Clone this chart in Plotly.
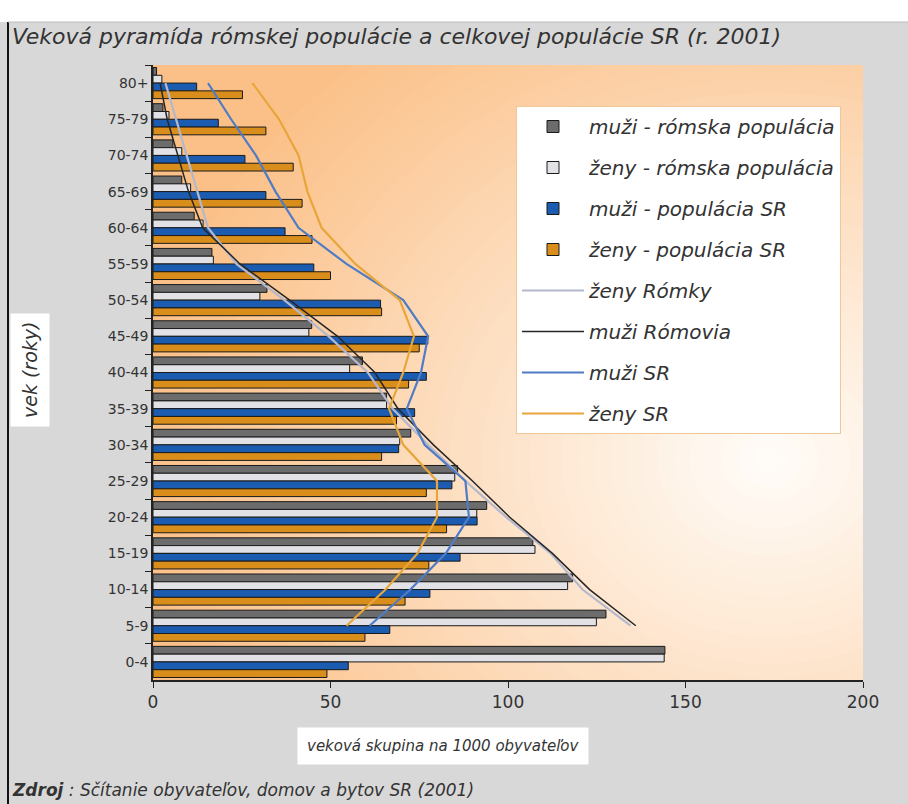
import plotly.graph_objects as go

# ---------------- data ----------------
age_groups = ["0-4", "5-9", "10-14", "15-19", "20-24", "25-29", "30-34", "35-39",
              "40-44", "45-49", "50-54", "55-59", "60-64", "65-69", "70-74", "75-79", "80+"]

muzi_romska = [144.2, 127.6, 118.2, 107.0, 94.0, 85.8, 72.6, 65.8, 59.0, 44.7,
               32.1, 16.6, 11.6, 8.1, 5.6, 2.8, 1.0]
zeny_romska = [144.0, 124.9, 116.8, 107.6, 91.2, 85.0, 69.5, 65.8, 55.4, 43.9,
               30.1, 17.0, 14.1, 10.6, 8.1, 4.5, 2.5]
muzi_sr = [55.0, 66.7, 78.0, 86.5, 91.3, 84.2, 69.2, 73.7, 77.0, 77.4,
           64.1, 45.3, 37.2, 31.8, 25.9, 18.4, 12.3]
zeny_sr = [49.0, 59.7, 71.0, 77.7, 82.7, 77.0, 64.4, 68.6, 72.0, 75.0,
           64.4, 50.0, 44.8, 42.0, 39.5, 31.8, 25.2]

# line series (drawn from 5-9 up to 80+)
line_groups = ["5-9", "10-14", "15-19", "20-24", "25-29", "30-34", "35-39", "40-44",
               "45-49", "50-54", "55-59", "60-64", "65-69", "70-74", "75-79", "80+"]
line_zeny_romky = [134.5, 121.0, 112.0, 99.5, 88.0, 77.5, 67.5, 60.5, 49.5, 37.0,
                   23.5, 15.5, 12.5, 9.5, 6.5, 3.5]
line_muzi_romovia = [136.0, 123.0, 112.5, 100.5, 90.0, 79.0, 69.0, 62.5, 52.0, 38.5,
                     24.5, 14.0, 10.0, 7.0, 4.0, 2.0]
line_muzi_sr = [61.0, 72.5, 82.5, 89.0, 88.0, 76.5, 71.5, 75.5, 77.5, 70.5,
                54.5, 41.0, 34.5, 29.0, 22.0, 15.5]
line_zeny_sr = [54.5, 65.5, 74.5, 80.0, 80.0, 70.5, 66.5, 70.5, 73.5, 69.5,
                57.0, 47.5, 43.5, 41.0, 35.5, 28.0]

x_ticks = [0, 50, 100, 150, 200]

# ---------------- figure ----------------
W, H = 908, 804
L, R, T, B = 153, 45, 65, 124
pw, ph = W - L - R, H - T - B

fig = go.Figure()

bar_specs = [
    ("muži - rómska populácia", muzi_romska, "#6c6c6c"),
    ("ženy - rómska populácia", zeny_romska, "#e2e2e6"),
    ("muži - populácia SR", muzi_sr, "#1c5cb0"),
    ("ženy - populácia SR", zeny_sr, "#d98e1c"),
]
for i, (name, vals, col) in enumerate(bar_specs):
    fig.add_trace(go.Bar(
        y=age_groups, x=vals, orientation="h", name=name,
        marker=dict(color=col, line=dict(color="#1a1a1a", width=1)),
        legendgroup="g%d" % i,
    ))

line_specs = [
    ("ženy Rómky", line_zeny_romky, "#b4b8cc", 2.2),
    ("muži Rómovia", line_muzi_romovia, "#262626", 1.5),
    ("muži SR", line_muzi_sr, "#4f7cc4", 2.2),
    ("ženy SR", line_zeny_sr, "#e8a63a", 2.2),
]
for i, (name, vals, col, w) in enumerate(line_specs):
    fig.add_trace(go.Scatter(
        y=line_groups, x=vals, mode="lines", name=name,
        line=dict(color=col, width=w),
        legendgroup="l%d" % i,
    ))

# background radial gradient inside the plot area (shapes in axis units)
shapes = []
cx_px, cy_px = 770, 460           # center of the light spot (pixels)
px_per_x = pw / 200.0
px_per_cat = ph / 17.0
N = 40
Rmax = 640
peach = (251, 192, 136)
white = (255, 252, 248)
for k in range(N):
    r = Rmax * (1 - k / N)
    t = k / (N - 1)
    c = tuple(int(round(peach[j] + (white[j] - peach[j]) * t)) for j in range(3))
    x0 = (cx_px - r - L) / px_per_x
    x1 = (cx_px + r - L) / px_per_x
    y0 = (cy_px - r * 0.85 - T) / px_per_cat - 0.5
    y1 = (cy_px + r * 0.85 - T) / px_per_cat - 0.5
    shapes.append(dict(type="circle", xref="x", yref="y", x0=x0, x1=x1, y0=y0, y1=y1,
                       fillcolor="rgb(%d,%d,%d)" % c, line=dict(width=0), layer="below"))


def px_x(p):
    return (p - L) / pw


def px_y(p):
    return (H - B - p) / ph


# white strip at top and dark vertical line at left edge of the frame
shapes.append(dict(type="rect", xref="paper", yref="paper", x0=px_x(0), x1=px_x(W),
                   y0=px_y(22), y1=px_y(0), fillcolor="white", line=dict(width=0), layer="below"))
shapes.append(dict(type="line", xref="paper", yref="paper", x0=px_x(8), x1=px_x(8),
                   y0=px_y(22), y1=px_y(H), line=dict(color="#111111", width=2)))
shapes.append(dict(type="line", xref="paper", yref="paper", x0=px_x(8), x1=px_x(W),
                   y0=px_y(22), y1=px_y(22), line=dict(color="#bdbdbd", width=1)))

annotations = [
    dict(text="Veková pyramída rómskej populácie a celkovej populácie SR (r. 2001)",
         xref="paper", yref="paper", x=px_x(10), y=px_y(36), xanchor="left", yanchor="middle",
         showarrow=False, font=dict(family="DejaVu Sans", size=22, color="#333333", style="italic")),
    dict(text="vek (roky)", textangle=-90,
         xref="paper", yref="paper", x=px_x(30), y=px_y(370), xanchor="center", yanchor="middle",
         showarrow=False, bgcolor="white", borderpad=8,
         font=dict(family="DejaVu Sans", size=19, color="#333333", style="italic")),
    dict(text="veková skupina na 1000 obyvateľov",
         xref="paper", yref="paper", x=px_x(443), y=px_y(746), xanchor="center", yanchor="middle",
         showarrow=False, bgcolor="white", borderpad=9,
         font=dict(family="DejaVu Sans", size=15, color="#333333", style="italic")),
    dict(text="<b>Zdroj</b> : Sčítanie obyvateľov, domov a bytov SR (2001)",
         xref="paper", yref="paper", x=px_x(10), y=px_y(790), xanchor="left", yanchor="middle",
         showarrow=False,
         font=dict(family="DejaVu Sans", size=17, color="#333333", style="italic")),
]

fig.update_layout(
    width=W, height=H,
    margin=dict(l=L, r=R, t=T, b=B),
    paper_bgcolor="#d8d8d8",
    plot_bgcolor="#fbc088",
    barmode="group", bargap=0.14, bargroupgap=0,
    showlegend=True,
    legend=dict(
        x=px_x(516), y=px_y(106), xanchor="left", yanchor="top",
        bgcolor="white", bordercolor="#f0c898", borderwidth=1,
        traceorder="grouped", tracegroupgap=12, itemwidth=62,
        font=dict(family="DejaVu Sans", size=20, color="#333333", style="italic"),
    ),
    xaxis=dict(
        range=[0, 200], tickvals=x_ticks, ticks="outside", ticklen=6, tickcolor="#222222",
        showline=True, linecolor="#222222", linewidth=1.5, showgrid=False, zeroline=False,
        tickfont=dict(family="DejaVu Sans", size=17, color="#333333"),
    ),
    yaxis=dict(
        type="category", categoryorder="array", categoryarray=age_groups[::-1],
        range=[16.5, -0.5], ticks="outside", ticklen=6, tickcolor="#222222",
        tickson="boundaries",
        showline=True, linecolor="#222222", linewidth=1.5, showgrid=False,
        tickfont=dict(family="DejaVu Sans", size=14, color="#333333"),
    ),
    shapes=shapes,
    annotations=annotations,
)

fig.write_html("out.html", config={"displayModeBar": False},
               post_script="document.body.style.margin='0';document.body.style.overflow='hidden';")
